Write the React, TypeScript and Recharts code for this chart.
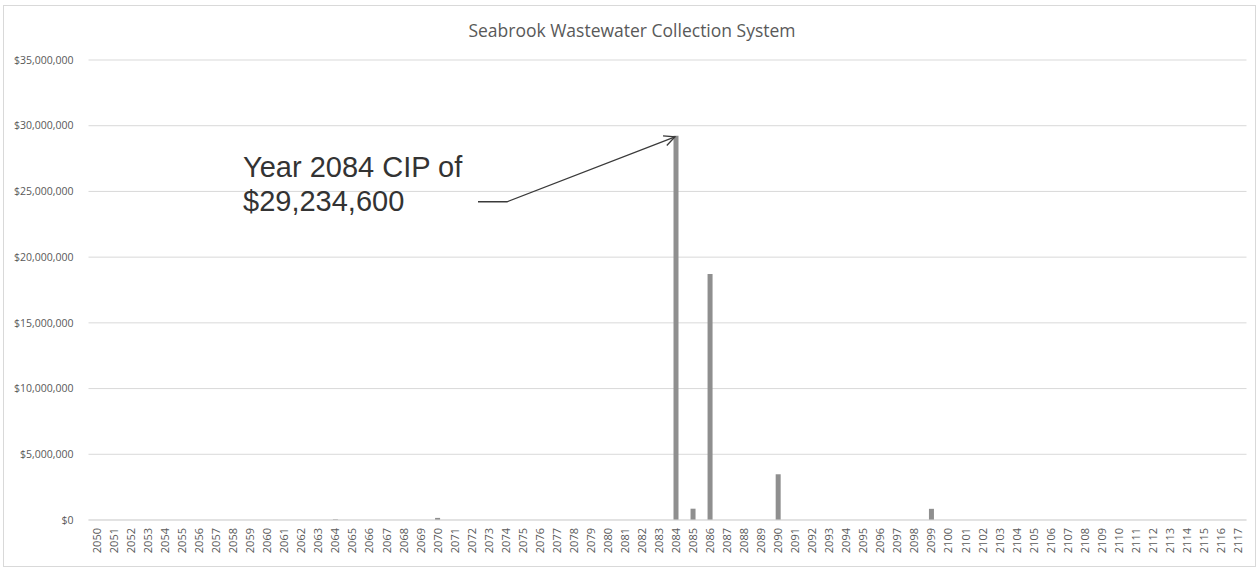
import React from "react";
import { BarChart, Bar, XAxis, YAxis, CartesianGrid, LabelList } from "recharts";

const years: string[] = [
  "2050","2051","2052","2053","2054","2055","2056","2057","2058","2059",
  "2060","2061","2062","2063","2064","2065","2066","2067","2068","2069",
  "2070","2071","2072","2073","2074","2075","2076","2077","2078","2079",
  "2080","2081","2082","2083","2084","2085","2086","2087","2088","2089",
  "2090","2091","2092","2093","2094","2095","2096","2097","2098","2099",
  "2100","2101","2102","2103","2104","2105","2106","2107","2108","2109",
  "2110","2111","2112","2113","2114","2115","2116","2117",
];

const cipValues: number[] = [
  0, 0, 0, 0, 0, 0, 0, 0, 0, 0,
  0, 0, 0, 0, 50000, 0, 0, 0, 0, 0,
  160000, 0, 0, 0, 0, 0, 0, 0, 0, 0,
  0, 0, 0, 0, 29234600, 860000, 18720000, 0, 0, 0,
  3480000, 0, 0, 0, 0, 0, 0, 0, 0, 850000,
  0, 0, 0, 0, 0, 0, 0, 0, 0, 0,
  0, 0, 0, 0, 0, 0, 0, 0,
];

const yTicks: number[] = [0, 5000000, 10000000, 15000000, 20000000, 25000000, 30000000, 35000000];

const title = "Seabrook Wastewater Collection System";
const annotationYear = "2084";
const annotationLines: string[] = ["Year 2084 CIP of", "$29,234,600"];

const data = years.map((y, i) => ({ year: y, value: cipValues[i] }));
const annotationValue = cipValues[years.indexOf(annotationYear)];

const fmtMoney = (v: number) => "$" + v.toLocaleString("en-US");

const XTick = (props: any) => {
  const { x, y, payload } = props;
  return (
    <g transform={`translate(${x},${y})`}>
      <text
        x={0}
        y={0}
        dy={4}
        textAnchor="end"
        transform="rotate(-90)"
        fontSize={11}
        fontFamily="'Open Sans', sans-serif"
        fill="#595959"
      >
        {payload.value}
      </text>
    </g>
  );
};

const renderAnnotation = (props: any) => {
  const { x, y, width, value } = props;
  if (value !== annotationValue) return null;
  const cx = Number(x) + Number(width) / 2;
  const top = Number(y);
  const tipX = cx - 1;
  const tipY = top + 1;
  const elbowX = cx - 169;
  const elbowY = top + 66;
  const startX = cx - 198;
  const ang = Math.atan2(tipY - elbowY, tipX - elbowX);
  const len = 12;
  const spread = 0.45;
  const a1x = tipX - len * Math.cos(ang - spread);
  const a1y = tipY - len * Math.sin(ang - spread);
  const a2x = tipX - len * Math.cos(ang + spread);
  const a2y = tipY - len * Math.sin(ang + spread);
  return (
    <g key="annotation">
      <polyline
        points={`${startX},${elbowY} ${elbowX},${elbowY} ${tipX},${tipY}`}
        fill="none"
        stroke="#3a3a3a"
        strokeWidth={1.3}
      />
      <polyline
        points={`${a1x},${a1y} ${tipX},${tipY} ${a2x},${a2y}`}
        fill="none"
        stroke="#3a3a3a"
        strokeWidth={1.3}
      />
      {annotationLines.map((t, i) => (
        <text
          key={i}
          x={cx - 433}
          y={top + 41 + i * 34}
          fontSize={29}
          fontFamily="'Liberation Sans', Arial, sans-serif"
          fill="#333333"
        >
          {t}
        </text>
      ))}
    </g>
  );
};

export default function App() {
  return (
    <div style={{ position: "absolute", left: 0, top: 0, width: 1258, height: 572, background: "#fff" }}>
      <div
        style={{
          position: "absolute",
          left: 3,
          top: 5,
          width: 1251,
          height: 560,
          border: "1px solid #d9d9d9",
        }}
      />
      <div
        style={{
          position: "absolute",
          left: 0,
          top: 18,
          width: 1264,
          textAlign: "center",
          fontFamily: "'Open Sans', sans-serif",
          fontSize: 17.5,
          color: "#595959",
        }}
      >
        {title}
      </div>
      <div style={{ position: "absolute", left: 0, top: 0 }}>
        <BarChart
          width={1258}
          height={572}
          data={data}
          margin={{ top: 60, right: 11.5, bottom: 7, left: 0 }}
          barCategoryGap={0}
        >
          <CartesianGrid vertical={false} stroke="#d9d9d9" />
          <XAxis
            dataKey="year"
            interval={0}
            tickLine={false}
            axisLine={{ stroke: "#d9d9d9" }}
            height={45}
            tick={<XTick />}
          />
          <YAxis
            width={88.5}
            domain={[0, 35000000]}
            ticks={yTicks}
            tickFormatter={fmtMoney}
            axisLine={false}
            tickLine={false}
            tickMargin={9}
            tick={{ fontSize: 10.5, fill: "#595959", fontFamily: "'Open Sans', sans-serif" }}
          />
          <Bar dataKey="value" fill="#8f8f8f" barSize={5} isAnimationActive={false}>
            <LabelList dataKey="value" content={renderAnnotation} />
          </Bar>
        </BarChart>
      </div>
    </div>
  );
}
